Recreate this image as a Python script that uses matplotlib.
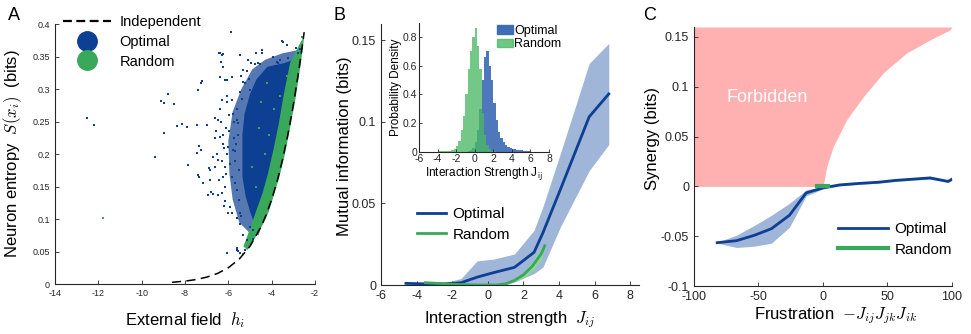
import numpy as np
import matplotlib
matplotlib.use('Agg')
import matplotlib.pyplot as plt
from matplotlib.lines import Line2D
from matplotlib.patches import Patch
from matplotlib.ticker import FuncFormatter

plt.rcParams['font.family'] = ['Liberation Sans', 'DejaVu Sans']
plt.rcParams['mathtext.fontset'] = 'cm'
plt.rcParams['axes.unicode_minus'] = False

BLUE = '#0d3f93'
BLUE_BAND = '#9fb6d9'
GREEN = '#3aa85a'
GREEN_BAND = '#92d4a0'
FORBID = '#ffb1b1'
TICK_GRAY = '#262626'

# ---------------- panel A data ----------------
# independent-neuron entropy curve
indep_h = [-8.6, -8.0, -7.5, -7.0, -6.5, -6.0, -5.5, -5.0, -4.5, -4.25, -4.0,
           -3.75, -3.5, -3.25, -3.0, -2.75, -2.6, -2.5]
indep_S = [0.0026, 0.0044, 0.0068, 0.0105, 0.0162, 0.0250, 0.0382, 0.0580,
           0.0873, 0.1066, 0.1300, 0.1578, 0.1909, 0.2299, 0.2754, 0.3277,
           0.3627, 0.3875]

# looser outer part of the optimal cloud (outline)
fringe_h = [-2.75, -3.5, -4.3, -4.9, -5.4, -5.8, -6.0, -5.95, -5.8, -5.5, -5.0, -4.6,
            -4.5, -4.0, -3.5, -3.0, -2.75]
fringe_S = [0.360, 0.355, 0.345, 0.330, 0.300, 0.265, 0.220, 0.170, 0.130, 0.095, 0.078,
            0.075, 0.087, 0.130, 0.191, 0.275, 0.328]

# dense core of the optimal cloud (outline)
core_h = [-2.72, -3.4, -4.2, -4.7, -5.0, -5.25, -5.35, -5.35, -5.2, -5.0, -4.77, -4.55,
          -4.5, -4.25, -4.0, -3.75, -3.5, -3.25, -3.0, -2.75]
core_S = [0.348, 0.340, 0.334, 0.315, 0.292, 0.262, 0.230, 0.165, 0.135, 0.112, 0.090, 0.084,
          0.087, 0.107, 0.130, 0.158, 0.191, 0.230, 0.275, 0.328]

# green band hugging the independent curve (outline)
rband_h = [-5.12, -4.65, -4.4, -4.15, -3.9, -3.65, -3.4, -3.15, -2.9, -2.65, -2.5,
           -2.7, -3.15, -3.45, -3.68, -3.93, -4.17, -4.42, -4.72, -5.0, -5.3]
rband_S = [0.052, 0.077, 0.092, 0.110, 0.136, 0.164, 0.198, 0.240, 0.285, 0.340, 0.380,
           0.370, 0.340, 0.290, 0.245, 0.205, 0.170, 0.140, 0.112, 0.085, 0.058]

# individual optimal neurons outside the core
opt_h = [-5.89, -12.54, -12.18, -9.38, -8.97, -9.10, -8.95, -8.80, -8.49, -8.38, -8.15,
         -7.92, -7.88, -7.46, -7.38, -7.26, -7.20, -7.34, -7.25, -7.46, -7.42, -7.34,
         -6.88, -6.85, -6.92, -6.82, -7.15, -6.42, -6.31, -6.35, -6.38, -6.15, -6.08,
         -5.62, -5.54, -3.49, -2.88, -3.28,
         -3.54, -2.69, -2.77, -6.39, -6.23, -5.46, -4.46, -4.77, -4.62, -4.54, -3.93,
         -3.77, -3.23, -6.23, -5.31, -5.15, -5.85, -6.08, -5.31, -5.00, -5.46, -6.31,
         -6.08, -5.85, -6.62, -6.46, -7.00, -5.77, -5.62, -5.54, -6.62, -6.39, -6.23,
         -6.00, -5.77, -6.69, -6.46, -6.16, -6.23, -6.85, -5.85, -5.69, -6.69, -6.46,
         -6.16, -5.92, -5.85, -5.62, -5.46, -5.00, -4.85, -5.62, -5.46, -5.23,
         -5.55, -5.65, -5.70, -5.50, -5.60, -5.75, -5.52, -5.58, -5.68, -5.48, -5.72,
         -4.20, -4.00, -3.70, -4.40, -3.60, -4.90, -5.10, -4.30, -3.85, -4.15,
         -6.10, -6.25, -6.05, -6.30, -6.15, -5.95, -6.20, -6.40, -6.05, -6.50, -5.90,
         -6.55, -6.12, -6.28, -5.98, -6.45, -6.35, -6.02, -6.18, -6.60, -5.40, -5.25,
         -5.10, -4.70, -4.95, -4.45, -5.35, -5.05, -5.30, -4.85, -5.15, -5.42]
opt_S = [0.387, 0.256, 0.245, 0.196, 0.233, 0.282, 0.279, 0.293, 0.277, 0.243, 0.246,
         0.242, 0.183, 0.244, 0.298, 0.309, 0.312, 0.212, 0.206, 0.201, 0.168, 0.164,
         0.178, 0.160, 0.137, 0.142, 0.156, 0.355, 0.352, 0.342, 0.319, 0.314, 0.047,
         0.055, 0.051, 0.373, 0.363, 0.368,
         0.374, 0.362, 0.355, 0.355, 0.354, 0.352, 0.356, 0.339, 0.340, 0.338, 0.350,
         0.342, 0.347, 0.334, 0.329, 0.327, 0.319, 0.314, 0.311, 0.298, 0.296, 0.283,
         0.280, 0.283, 0.255, 0.252, 0.244, 0.262, 0.252, 0.247, 0.224, 0.226, 0.216,
         0.211, 0.206, 0.196, 0.191, 0.180, 0.165, 0.175, 0.165, 0.155, 0.139, 0.137,
         0.127, 0.119, 0.109, 0.101, 0.093, 0.088, 0.083, 0.052, 0.047, 0.052,
         0.230, 0.215, 0.190, 0.175, 0.145, 0.250, 0.130, 0.270, 0.205, 0.110, 0.225,
         0.325, 0.332, 0.340, 0.318, 0.345, 0.282, 0.275, 0.322, 0.336, 0.328,
         0.240, 0.230, 0.200, 0.190, 0.150, 0.260, 0.120, 0.270, 0.290, 0.200, 0.185,
         0.235, 0.170, 0.140, 0.235, 0.160, 0.250, 0.110, 0.210, 0.180, 0.320, 0.310,
         0.345, 0.355, 0.340, 0.360, 0.285, 0.315, 0.075, 0.070, 0.068, 0.105]

rand_h = [-11.8, -5.3, -5.15, -5.0, -3.9, -4.6, -4.3, -4.9, -3.6, -4.1, -4.4, -4.0,
          -3.3, -4.7, -3.8, -2.62, -2.58, -4.5, -4.2, -3.5]
rand_S = [0.101, 0.046, 0.055, 0.064, 0.270, 0.240, 0.200, 0.180, 0.290, 0.230, 0.130,
          0.160, 0.320, 0.150, 0.210, 0.380, 0.372, 0.280, 0.310, 0.260]

# ---------------- panel B data ----------------
optB_J = [-4.6, -3.5, -2.5, -1.5, -0.6, 0.3, 1.5, 2.6, 3.1, 4.1, 5.7, 6.8]
optB_mi = [0.0010, 0.0007, 0.0006, 0.0014, 0.0048, 0.0075, 0.0108, 0.0200, 0.0320,
           0.0590, 0.1030, 0.1170]
optB_lo = [0.0005, 0.0, 0.0, 0.0, 0.0, 0.0, 0.0020, 0.0070, 0.0110, 0.0360, 0.0700, 0.0860]
optB_hi = [0.0015, 0.0012, 0.0012, 0.0040, 0.0148, 0.0158, 0.0190, 0.0335, 0.0480,
           0.0812, 0.1357, 0.1480]

randB_J = [-3.5, -3.0, -2.5, -2.0, -1.5, -1.0, -0.5, 0.0, 0.5, 1.0, 1.5, 2.0, 2.5, 3.0, 3.2]
randB_mi = [0.0014, 0.0011, 0.0008, 0.0005, 0.0003, 0.0001, 0.0, 0.0, 0.0, 0.0007,
            0.0028, 0.0062, 0.0115, 0.0190, 0.0240]
randB_err = [0.0003, 0.0003, 0.0003, 0.0003, 0.0003, 0.0003, 0.0003, 0.0003, 0.0003,
             0.0005, 0.0010, 0.0020, 0.0030, 0.0040, 0.0010]

# inset histograms of couplings
rand_hist = [0.004, 0.005, 0.006, 0.008, 0.008, 0.010, 0.013, 0.022, 0.040, 0.080,
             0.150, 0.250, 0.400, 0.580, 0.700, 0.800, 0.860, 0.740, 0.580, 0.270,
             0.120, 0.050, 0.020, 0.008, 0.004, 0.002, 0.001, 0.0]
opt_hist = [0.003, 0.006, 0.012, 0.030, 0.070, 0.150, 0.300, 0.500, 0.660, 0.700,
            0.600, 0.500, 0.340, 0.220, 0.140, 0.095, 0.070, 0.050, 0.038, 0.030,
            0.024, 0.019, 0.016, 0.013, 0.011, 0.009, 0.006, 0.004, 0.002, 0.001]
bin_w = 0.25
rand_start = -4.0
opt_start = -1.0

# ---------------- panel C data ----------------
forb_x = [0.0, 0.3, 2.9, 8.0, 18.4, 31.3, 46.8, 64.9, 82.9, 98.4, 100.0]
forb_y = [0.0, 0.0013, 0.020, 0.040, 0.067, 0.090, 0.114, 0.134, 0.147, 0.157, 0.160]

optC_x = [-82, -67, -53, -40, -26, -13, 0, 13, 28, 43, 56, 70, 83, 97, 100]
optC_y = [-0.0565, -0.0545, -0.0490, -0.0425, -0.0290, -0.0065, -0.0015, 0.0015,
          0.0030, 0.0042, 0.0060, 0.0073, 0.0085, 0.0050, 0.0072]
optC_lo = [-0.0570, -0.0613, -0.0600, -0.0570, -0.0410, -0.0095, -0.0025, 0.0005,
           0.0020, 0.0032, 0.0050, 0.0063, 0.0072, 0.0040, 0.0062]
optC_hi = [-0.0560, -0.0490, -0.0390, -0.0290, -0.0170, -0.0035, -0.0005, 0.0025,
           0.0040, 0.0052, 0.0070, 0.0085, 0.0102, 0.0060, 0.0082]

randC_x = [-5, 4]
randC_y = [0.0, 0.0]


def style(ax, size):
    for s in ['top', 'right']:
        ax.spines[s].set_visible(False)
    for s in ['left', 'bottom']:
        ax.spines[s].set_color(TICK_GRAY)
        ax.spines[s].set_linewidth(0.8)
    ax.tick_params(direction='in', length=3, width=0.6, colors=TICK_GRAY, labelsize=size)
    ax.xaxis.set_major_formatter(FuncFormatter(lambda v, p: f'{v:g}'))
    ax.yaxis.set_major_formatter(FuncFormatter(lambda v, p: f'{v:g}'))


fig = plt.figure(figsize=(9.71, 3.34), dpi=100)

# ---------------- A ----------------
axA = fig.add_axes([0.0566, 0.1497, 0.2678, 0.7784])
axA.fill(fringe_h, fringe_S, color=BLUE, alpha=0.7, lw=0, zorder=1)
axA.fill(core_h, core_S, color=BLUE, lw=0, zorder=1)
axA.fill(rband_h, rband_S, color=GREEN, lw=0, zorder=2)
axA.scatter(opt_h, opt_S, s=4, color=BLUE, lw=0, marker='s', zorder=3)
axA.scatter(rand_h, rand_S, s=4, color=GREEN, lw=0, marker='s', zorder=4)
axA.plot(indep_h, indep_S, color='k', ls=(0, (6, 3.5)), lw=1.1, zorder=5)
axA.set_xlim(-14, -2)
axA.set_ylim(0, 0.4)
axA.set_xticks([-14, -12, -10, -8, -6, -4, -2])
axA.set_yticks([0, 0.05, 0.1, 0.15, 0.2, 0.25, 0.3, 0.35, 0.4])
style(axA, 6.5)
axA.set_xlabel('External field  $h_i$', fontsize=12)
axA.set_ylabel('Neuron entropy  $S(x_i)$  (bits)', fontsize=12)
axA.xaxis.set_label_coords(0.5, -0.10)
axA.yaxis.set_label_coords(-0.118, 0.5)
hA = [Line2D([], [], color='k', ls=(0, (4, 2)), lw=1.6),
      Line2D([], [], color=BLUE, marker='o', ls='none', ms=14),
      Line2D([], [], color=GREEN, marker='o', ls='none', ms=14)]
axA.legend(hA, ['Independent', 'Optimal', 'Random'], loc='upper left',
           bbox_to_anchor=(0.03, 1.035), frameon=False, fontsize=10.5,
           handlelength=3.3, handletextpad=0.6, labelspacing=0.4,
           borderpad=0, borderaxespad=0)
fig.text(0.008, 0.955, 'A', fontsize=13, va='center')

# ---------------- B ----------------
axB = fig.add_axes([0.3924, 0.1467, 0.2657, 0.7823])
axB.fill_between(optB_J, optB_lo, optB_hi, color=BLUE_BAND, lw=0, zorder=1)
rlo = [m - e for m, e in zip(randB_mi, randB_err)]
rhi = [m + e for m, e in zip(randB_mi, randB_err)]
axB.fill_between(randB_J, rlo, rhi, color=GREEN_BAND, lw=0, zorder=2)
axB.plot(optB_J, optB_mi, color=BLUE, lw=2, zorder=3, label='Optimal')
axB.plot(randB_J, randB_mi, color=GREEN, lw=2, zorder=4, label='Random')
axB.set_xlim(-6, 8.5)
axB.set_ylim(0, 0.16)
axB.set_xticks([-6, -4, -2, 0, 2, 4, 6, 8])
axB.set_yticks([0, 0.05, 0.1, 0.15])
style(axB, 9)
axB.set_xlabel('Interaction strength  $J_{ij}$', fontsize=12)
axB.set_ylabel('Mutual information (bits)', fontsize=12)
axB.xaxis.set_label_coords(0.5, -0.092)
axB.yaxis.set_label_coords(-0.112, 0.53)
axB.legend(loc='center left', bbox_to_anchor=(0.14, 0.232), frameon=False,
           fontsize=11, handlelength=1.9, handletextpad=0.4, labelspacing=0.45,
           borderpad=0, borderaxespad=0)
fig.text(0.343, 0.955, 'B', fontsize=13, va='center')

# inset
axI = fig.add_axes([0.4315, 0.5449, 0.1339, 0.3874])
opt_c = [opt_start + bin_w * (i + 0.5) for i in range(len(opt_hist))]
rand_c = [rand_start + bin_w * (i + 0.5) for i in range(len(rand_hist))]
axI.bar(opt_c, opt_hist, width=bin_w, color='#3f6db5', alpha=0.92, lw=0, label='Optimal')
axI.bar(rand_c, rand_hist, width=bin_w, color='#4cb866', alpha=0.78, lw=0, label='Random')
axI.set_xlim(-6, 8)
axI.set_ylim(0, 0.9)
axI.set_xticks([-6, -4, -2, 0, 2, 4, 6, 8])
axI.set_yticks([0, 0.2, 0.4, 0.6, 0.8])
style(axI, 7.5)
axI.tick_params(length=2, pad=1.5)
axI.set_xlabel(r'Interaction Strength J$_{\mathsf{ij}}$', fontsize=8.5, labelpad=1)
axI.set_ylabel('Probability Density', fontsize=8.5, labelpad=0)
axI.legend(handles=[Patch(color='#3f6db5'), Patch(color='#4cb866', alpha=0.8)],
           labels=['Optimal', 'Random'], loc='center left',
           bbox_to_anchor=(0.6, 0.885), frameon=False, fontsize=9,
           handlelength=1.3, handleheight=0.7, handletextpad=0.1,
           labelspacing=0.15, borderpad=0, borderaxespad=0)

# ---------------- C ----------------
axC = fig.add_axes([0.7147, 0.1437, 0.2657, 0.7754])
axC.fill_betweenx(forb_y, -100, forb_x, color=FORBID, lw=0, zorder=1)
axC.text(-43, 0.089, 'Forbidden', color='white', fontsize=13, ha='center', va='center')
axC.fill_between(optC_x, optC_lo, optC_hi, color=BLUE_BAND, lw=0, zorder=2)
axC.plot(optC_x, optC_y, color=BLUE, lw=2, zorder=3, label='Optimal')
axC.plot(randC_x, randC_y, color=GREEN, lw=3, zorder=4, label='Random')
axC.set_xlim(-100, 100)
axC.set_ylim(-0.1, 0.16)
axC.set_xticks([-100, -50, 0, 50, 100])
axC.set_yticks([-0.1, -0.05, 0, 0.05, 0.1, 0.15])
style(axC, 9)
axC.set_xlabel('Frustration  $-J_{ij}J_{jk}J_{ik}$', fontsize=12)
axC.set_ylabel('Synergy (bits)', fontsize=12)
axC.xaxis.set_label_coords(0.55, -0.075)
axC.yaxis.set_label_coords(-0.13, 0.57)
axC.legend(loc='center left', bbox_to_anchor=(0.558, 0.18), frameon=False,
           fontsize=11, handlelength=3.3, handletextpad=0.4, labelspacing=0.45,
           borderpad=0, borderaxespad=0)
fig.text(0.662, 0.955, 'C', fontsize=13, va='center')

fig.savefig('out.png', dpi=100)
